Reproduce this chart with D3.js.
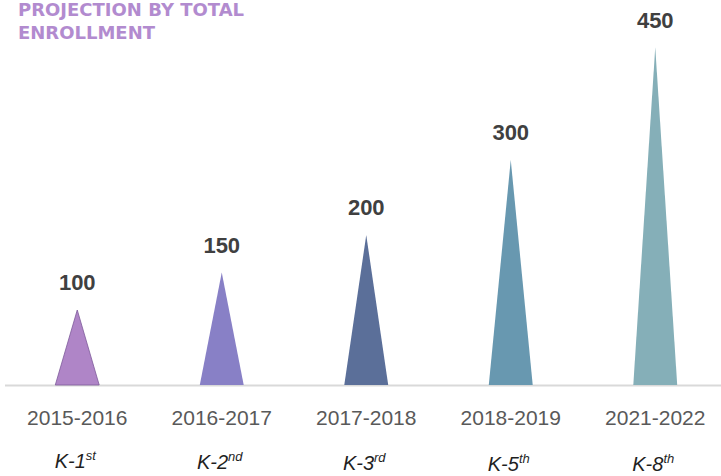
<!DOCTYPE html>
<html>
<head>
<meta charset="utf-8">
<script src="https://cdn.jsdelivr.net/npm/d3@7/dist/d3.min.js"></script>
<style>
  html, body { margin: 0; padding: 0; background: #ffffff; }
  svg { display: block; }
</style>
</head>
<body>
<svg id="chart" width="721" height="476"></svg>
<script>
// ---- data ----
const categories = ["2015-2016", "2016-2017", "2017-2018", "2018-2019", "2021-2022"];
const values = [100, 150, 200, 300, 450];
const gradeBase = ["K-1", "K-2", "K-3", "K-5", "K-8"];
const gradeSup = ["st", "nd", "rd", "th", "th"];
const titleLines = ["PROJECTION BY TOTAL", "ENROLLMENT"];
const colors = ["#AF85C7", "#8880C6", "#5B6F99", "#6898B0", "#85AFB8"];
const strokes = ["#7E5A9B", "none", "none", "none", "none"];

// ---- layout ----
const svg = d3.select("#chart");
const baseY = 385;
const gradeY = [468, 469, 470, 471, 471];

const x = d3.scaleBand().domain(categories).range([5, 727.5]).padding(0);
const y = d3.scaleLinear().domain([0, 500]).range([baseY, 10]);
const halfW = x.bandwidth() * 0.152;

// baseline axis
svg.append("line")
  .attr("x1", 5).attr("x2", 721)
  .attr("y1", baseY + 0.5).attr("y2", baseY + 0.5)
  .attr("stroke", "#D9D9D9").attr("stroke-width", 2);

// triangles
const g = svg.append("g");
categories.forEach((c, i) => {
  const cx = x(c) + x.bandwidth() / 2;
  const top = y(values[i]);
  const path = d3.path();
  path.moveTo(cx - halfW, baseY);
  path.lineTo(cx, top);
  path.lineTo(cx + halfW, baseY);
  path.closePath();
  g.append("path")
    .attr("d", path.toString())
    .attr("fill", colors[i])
    .attr("stroke", strokes[i])
    .attr("stroke-width", strokes[i] === "none" ? 0 : 0.8);

  // value label
  svg.append("text")
    .attr("x", cx).attr("y", top - 20)
    .attr("text-anchor", "middle")
    .attr("font-family", "'Liberation Sans', Arial, sans-serif")
    .attr("font-weight", "bold")
    .attr("font-size", 22)
    .attr("fill", "#404040")
    .text(values[i]);

  // category label
  svg.append("text")
    .attr("x", cx).attr("y", 425)
    .attr("text-anchor", "middle")
    .attr("font-family", "'Liberation Sans', Arial, sans-serif")
    .attr("font-size", 21)
    .attr("fill", "#595959")
    .text(c);

  // grade label with superscript
  const t = svg.append("text")
    .attr("x", cx - 2).attr("y", gradeY[i])
    .attr("text-anchor", "middle")
    .attr("font-family", "'Liberation Sans', Arial, sans-serif")
    .attr("font-style", "italic")
    .attr("font-size", 20)
    .attr("fill", "#1F1F1F");
  t.append("tspan").text(gradeBase[i]);
  t.append("tspan").attr("dy", -8).attr("font-size", 13).text(gradeSup[i]);
});

// title
const title = svg.append("text")
  .attr("font-family", "'DejaVu Sans', sans-serif")
  .attr("font-weight", "bold")
  .attr("font-size", 18)
  .attr("fill", "#B28BCF");
titleLines.forEach((l, i) => {
  title.append("tspan").attr("x", 18).attr("y", 16 + i * 23).text(l);
});
</script>
</body>
</html>
